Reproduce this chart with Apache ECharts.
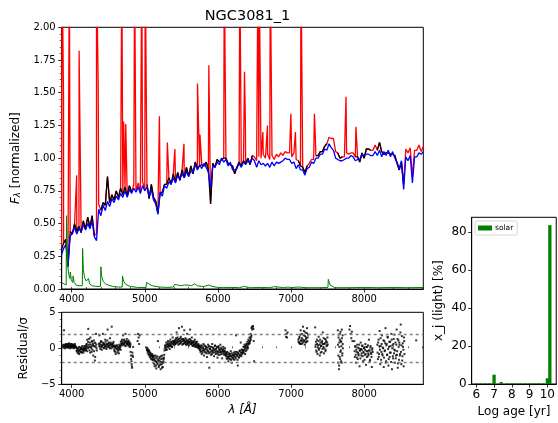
<!DOCTYPE html>
<html><head><meta charset="utf-8">
<script src="https://cdn.jsdelivr.net/npm/echarts@6/dist/echarts.min.js"></script>
<style>html,body{margin:0;padding:0;background:#fff}#c{width:558px;height:423px}</style>
</head><body><div id="c"></div>
<script>
// ---------------- data ----------------
const chartTitle = 'NGC3081_1';
const lamMin = 3864, lamMax = 8809;
const lamStart = 3860, lamStep = 30;   // sampling of the spectra arrays below
const modelFlux = [
.26,.31,.34,.18,.40,.43,.47,.42,.46,.44,.49,.45,.50,.46,.52,.40,.37,.61,.56,.64,
.60,.67,.63,.69,.66,.71,.68,.73,.70,.75,.70,.76,.73,.77,.74,.78,.73,.79,.75,.78,
.71,.76,.68,.65,.57,.74,.71,.79,.77,.82,.80,.85,.81,.87,.84,.88,.85,.90,.86,.90,
.89,.95,.91,.95,.92,.96,.93,.89,.77,.94,.93,.97,.95,1.00,.97,.99,.94,.97,.91,.91,
.92,.96,.93,.97,.95,.98,.96,1.00,.98,.93,.98,.95,.96,.94,.96,.93,.97,.94,.97,.96,
.97,.98,1.00,.99,.99,.96,.97,.92,.95,.91,.91,.87,.92,.93,.97,.96,1.00,1.00,1.03,1.03,
1.07,1.06,1.11,1.08,1.06,1.00,.99,.98,.98,.99,1.00,1.00,1.02,1.01,.98,.99,.99,1.03,1.02,1.03,
1.03,1.02,1.02,1.05,1.02,1.06,1.01,1.05,1.02,1.06,1.01,1.05,1.00,.97,.92,.98,.76,1.01,.98,1.02,
.81,1.01,1.01,1.04,1.03,1.05];
const obsFlux = [
.30,.35,.38,.17,.44,.42,.50,.44,.48,.43,.52,.46,.55,.47,.56,.41,.42,.65,.60,.66,
.64,.86,.66,.72,.68,.75,.70,.77,.72,.78,.71,.79,.74,.80,.75,.81,.74,.82,.76,.80,
.69,.80,.70,.67,.58,.73,.74,.80,.80,.85,.80,.88,.82,.89,.83,.91,.85,.93,.86,.94,
.88,.97,.92,.94,.95,.94,.97,.91,.65,.96,.93,.99,.97,.99,1.00,1.00,.96,.95,.94,.88,
.93,.97,.94,.98,.96,1.00,.95,1.02,1.01,.98,1.01,1.00,1.03,1.00,1.03,.99,1.02,.99,1.03,1.01,
1.04,1.02,1.05,1.04,1.04,1.01,1.04,.99,.98,.94,.93,.89,.94,.96,.99,.99,1.02,1.02,1.05,1.05,
1.09,1.11,1.16,1.15,1.15,1.05,1.04,1.00,1.01,1.01,1.04,1.03,1.04,1.04,1.01,1.01,.97,1.04,1.00,1.07,
1.07,1.06,1.06,1.10,1.06,1.12,1.05,1.03,1.04,1.04,1.03,1.03,1.02,.96,.91,.97,.80,1.07,1.04,1.08,
.86,1.06,1.06,1.10,1.05,1.09];
const maskRanges = [[4335,4375],[4845,4900],[4935,5020],[6500,6925],[6955,7095],[7235,7325],
  [7505,7635],[7715,7795],[7845,7865],[8115,8175],[8555,8705],[8725,8815]];
const emissionLines = [[3869,2.5],[3889,1.47],[3968,2.5],[4069,0.87],[4102,1.82],[4340,2.5],[4363,1.56],
  [4686,2.5],[4711,1.28],[4740,1.26],[4861,2.5],[4959,2.5],[5007,2.5],[5200,1.32],[5309,1.12],[5412,1.07],
  [5536,1.11],[5721,1.57],[5755,1.18],[5876,1.71],[6087,2.5],[6300,2.5],[6364,1.66],[6375,1.30],[6548,2.5],
  [6563,2.5],[6583,2.5],[6615,1.2],[6678,1.25],[6716,2.5],[6731,2.5],[6998,1.34],[7060,1.2],[7136,2.5],
  [7320,1.34],[7330,1.2],[7752,1.47],[7888,1.24]];
const errorSpec = [[3864,0.05],[3890,0.04],[3925,0.03],[3930,0.56],[3940,0.3],[3950,0.16],[3965,0.1],[3978,0.08],
  [3982,0.13],[3995,0.07],[4015,0.05],[4020,0.1],[4035,0.05],[4060,0.03],[4100,0.025],[4146,0.025],[4150,0.31],
  [4160,0.15],[4175,0.09],[4200,0.06],[4225,0.05],[4230,0.08],[4245,0.04],[4280,0.025],[4330,0.02],[4395,0.02],
  [4400,0.17],[4410,0.1],[4430,0.06],[4460,0.04],[4500,0.03],[4560,0.02],[4640,0.015],[4692,0.015],[4696,0.1],
  [4710,0.06],[4740,0.035],[4800,0.02],[4900,0.012],[5018,0.012],[5023,0.05],[5050,0.035],[5100,0.025],[5200,0.015],
  [5300,0.012],[5390,0.015],[5410,0.035],[5450,0.03],[5500,0.025],[5540,0.03],[5560,0.045],[5580,0.03],[5640,0.025],
  [5683,0.04],[5720,0.025],[5800,0.018],[5874,0.03],[5920,0.02],[6000,0.012],[6080,0.012],[6100,0.022],[6200,0.012],
  [6300,0.01],[6350,0.02],[6450,0.01],[6600,0.012],[6700,0.01],[6780,0.018],[6900,0.01],[6960,0.015],[7000,0.01],
  [7100,0.015],[7200,0.01],[7400,0.01],[7505,0.012],[7510,0.074],[7525,0.06],[7535,0.03],[7550,0.015],[7600,0.01],
  [7800,0.01],[8000,0.012],[8200,0.01],[8400,0.012],[8600,0.01],[8809,0.012]];
// residual/sigma: [start wavelength, spacing, values]
const residualSegments = [
  [3880,8,[0.4,0.2,2.5,0.3,0.5,0.1,0.4,0.2,0.6,0.3,0.1,0.5,0.3,0.2,0.4,0.6,0.2,0.3,0.5,0.1,0.3,0.4,0.2]],
  [3884,8,[0.1,0.5,0.3,0.0,0.4,0.6,0.2,0.5,0.1,0.4,0.7,0.2,0.0,0.6,0.3,0.1,0.5,0.4,0.0,0.3,0.6,0.2,0.1]],
  [4064,8,[0.1,-0.3,-0.6,0.0,-0.4,-0.8,-0.2,0.1,-0.5,-0.1,0.3,-0.3,-0.6,0.0,-0.2,0.2]],
  [4068,8,[-0.4,0.0,-0.2,-0.7,0.2,-0.3,-0.5,-0.1,0.1,-0.6,-0.2,0.0,-0.4,0.3,-0.1,-0.3]],
  [4190,7.5,[0.3,-0.2,0.6,1.2,0.0,2.7,0.5,-0.3,0.8,1.5,0.2,-0.5,0.9,0.4,-1.0,1.1,0.3,-1.7,0.7,2.0,0.0]],
  [4194,7.5,[0.0,0.5,-0.4,0.3,0.9,0.1,1.3,0.2,-0.6,0.5,0.0,1.0,-0.2,0.6,0.3,-0.4,0.8,-1.2,0.2,0.5,-0.3]],
  [4372,8,[0.6,1.8,0.2,0.5,1.0,-0.2,0.4,2.0,0.7,0.1,0.5,1.2,0.3,-0.1,0.6,2.6,0.4,0.8,0.2,1.4,0.5,0.0,3.0,0.6,0.3,0.9]],
  [4376,8,[0.3,0.7,-0.1,0.9,0.4,0.2,0.8,0.5,0.0,0.6,0.3,0.9,0.1,0.5,1.1,0.2,0.7,0.4,0.0,0.6,0.8,0.3,0.5,0.1,0.7,0.4]],
  [4578,8,[0.3,-0.4,0.1,-0.8,0.4,0.0,-0.6,0.2,-0.3,0.5,-0.1,0.2]],
  [4582,8,[-0.2,0.2,-0.5,0.3,-0.1,0.4,-0.3,0.0,-0.7,0.1,0.3,-0.2]],
  [4672,8,[0.9,0.5,1.2,0.7,1.8,0.6,1.0,0.4,2.0,0.8,1.3,0.6,0.9,1.1,0.5,0.2,0.7]],
  [4676,8,[0.6,1.0,0.4,0.8,0.5,1.2,0.7,0.9,0.3,1.0,0.6,0.8,0.4,0.7,0.9,0.3,0.5]],
  [4806,7,[-0.5,-1.5,-2.2,-2.7,-1.0,0.2]],
  [4810,7,[-1.0,-1.8,-2.5,-0.6,-1.2]],
  [4902,7,[1.0,2.0,1.5,0.6,1.8]],
  [5025,7.5,[0.1,-0.3,-0.6,-0.2,-0.9,-0.5,-1.2,-0.7,-1.0,-1.5,-0.8,-1.3]],
  [5029,7.5,[-0.2,0.0,-0.4,-0.8,-0.3,-1.0,-0.6,-1.4,-0.9,-1.1,-1.6,-1.0]],
  [5112,7.5,[-1.2,-2.0,-1.5,-2.5,-1.0,-1.8,-2.8,-1.4,-2.2,1.0,-1.7,-2.4,-1.2,-2.0,-2.9,-1.5,-2.2,-1.0,-2.6,-1.8,-1.3]],
  [5116,7.5,[-1.6,-1.1,-2.2,-1.7,-1.3,-2.4,-1.9,-1.1,-2.0,-1.6,-2.6,-1.4,-1.8,-2.3,-1.1,-1.9,-2.7,-1.4,-2.0,-1.5,-0.9]],
  [5270,8,[-0.3,0.4,0.1,0.8,-0.2,0.5,1.0,0.3,0.6,-0.1,1.2,0.4,0.9,0.2,1.5,0.5,0.8,1.1]],
  [5274,8,[0.0,0.3,-0.2,0.5,0.2,0.7,0.1,0.4,0.9,0.3,0.6,0.8,0.2,0.7,1.0,0.6,0.9,0.5]],
  [5412,8,[1.0,0.6,1.4,2.2,0.8,1.2,0.5,2.8,1.0,0.7,1.6,0.9,3.0,1.3,0.6,1.1,2.5,0.8,1.4,0.5,1.0,2.0,0.7,1.2,0.4,0.9,2.6,1.1,0.6,1.5,0.8,0.3,1.0,0.5,1.2,0.2,0.7,0.4,0.9,0.1,0.6,0.3,0.0]],
  [5416,8,[0.8,1.2,0.7,1.0,1.5,0.9,1.3,0.6,1.1,1.4,0.8,1.2,0.5,1.0,1.3,0.7,1.1,0.9,0.6,1.2,0.8,0.5,1.0,0.7,0.9,1.3,0.6,0.8,1.0,0.4,0.7,0.9,0.5,0.8,0.3,0.6,0.9,0.2,0.5,0.3,0.0,0.4,-0.2]],
  [5754,8,[0.2,-0.5,0.4,-0.8,0.0,-0.3,0.6,-1.0,-0.2,0.3,-0.6,0.1,-1.2,-0.4,0.5,-0.7,-2.7,-0.1,0.2,-0.9,-0.3,0.6,-0.5,0.0,-1.1,-0.2,0.4,-0.8,-0.4,0.1,-1.3,-0.6,0.3,-0.2,-0.9,0.5,-0.5,-0.1,-1.4,-0.3,0.2,-0.7,-0.4,0.0,-1.0]],
  [5758,8,[-0.2,0.1,-0.4,0.3,-0.6,0.0,-0.3,0.4,-0.5,-0.1,0.2,-0.7,-0.2,0.1,-0.4,0.3,-0.6,-0.1,-0.5,0.2,-0.8,-0.3,0.1,-0.6,-0.2,0.3,-0.5,-0.1,-0.7,0.2,-0.4,-0.9,0.0,-0.5,-0.2,-0.6,0.1,-0.8,-0.3,-0.5,-0.1,-0.9,-0.4,-0.6,-0.8]],
  [6112,8,[-0.8,-1.4,-0.5,-1.2,-1.8,-0.7,-1.0,-1.5,-0.4,-1.1,-2.0,-0.9,-1.3,-0.6,-1.6,-0.8,-1.2,1.8,-0.5,-1.0,-2.4,-0.7,-1.3,-0.4,-0.9,0.8,-1.1,-0.6,-0.2]],
  [6116,8,[-1.1,-0.6,-1.5,-0.9,-1.2,-1.4,-0.8,-1.1,-1.6,-0.7,-1.3,-1.0,-1.5,-0.9,-1.1,-0.5,-1.4,-0.8,-1.0,-1.6,-0.6,-1.2,-0.9,-0.3,-1.0,-0.6,-0.2,-0.8,-0.4]],
  [6342,7.5,[-0.6,0.2,-0.3,0.5,-0.8,0.1,0.6,-0.2,0.9,0.3,1.2,0.6,1.5,1.0,2.0,1.6]],
  [6346,7.5,[-0.3,-0.6,0.2,-0.1,0.3,-0.4,0.4,0.1,0.6,0.0,0.8,1.0,0.7,1.4,1.2,1.8]],
  [6460,5,[2.8,3.0,2.6,2.9,3.1,2.7,1.0,-1.8]],
  [6925,7,[2.5,1.6,2.0,1.5,2.2]],
  [7100,8,[1.2,0.8,1.6,0.6,2.5,1.0,1.4,0.7,3.0,1.8,1.1,0.5,2.2,1.3,0.9,2.8,1.5]],
  [7104,8,[0.9,1.4,0.7,1.9,1.1,0.6,2.0,1.2,0.9,2.4,1.0,1.7,0.8,1.5,2.1,1.0,1.9]],
  [7330,8,[2.9,0.5,-0.3,1.2,-0.8,0.4,1.6,0.0,-1.0,0.8,0.3,-0.5,1.0,2.2,0.2,-0.7,0.6,1.3,-0.2,0.9,0.4,1.5]],
  [7334,8,[0.2,0.9,-0.5,0.6,0.1,1.0,-0.2,0.5,1.2,-0.6,0.4,0.8,-0.1,0.6,1.4,0.0,0.7,-0.4,1.1,0.3,0.8,0.5]],
  [7640,5,[2.5,-2.0,1.5,-2.9,0.8,-1.2,2.0,-0.5,1.0,-1.8,0.3,2.6,-1.0,1.8,0.0]],
  [7642,5,[0.5,-1.0,1.9,-2.4,0.2,1.2,-1.5,2.3,-0.3,0.9,-2.0,1.4,-0.7,0.6]],
  [7800,8,[2.6,3.1,2.0,1.4,2.3,1.0]],
  [7865,8,[1.0,-1.2,0.2,-2.0,-0.5,0.5,-1.5,-0.8,0.0,-2.5,-0.3,0.8,-1.0,-0.2,0.4,-1.8,-0.6,0.1,-0.9,0.6,-2.3,-0.4,0.2,-1.1,-0.7,1.2,-0.3,-1.6,0.3,-0.8,-2.6,0.0]],
  [7869,8,[-0.4,0.3,-0.9,-0.2,-1.3,0.1,-0.6,-1.0,0.5,-0.3,-1.4,-0.1,-0.7,0.3,-1.1,-0.5,0.0,-1.6,-0.2,-0.8,0.2,-1.2,-0.4,0.4,-0.9,-0.3,-1.8,0.1,-0.6,-1.2,-0.2,-0.5]],
  [8180,8,[0.5,-1.5,1.2,-0.8,2.4,-2.2,0.3,-0.5,1.8,-1.0,0.0,-2.6,1.0,-0.3,2.8,-1.8,0.6,-0.9,1.5,-2.4,0.2,-1.2,0.9,-0.6,2.0,-2.9,0.4,-1.4,1.3,-0.2,-2.0,0.8,-1.0,2.6,-0.4,-2.7,1.1,-1.6,0.5,-0.8,3.3,-2.2,1.7,-1.1,0.2,-2.5,1.0]],
  [8184,8,[-0.6,0.8,-1.2,0.3,-0.2,1.4,-1.6,0.6,-0.8,0.1,1.1,-1.3,-0.4,0.7,-2.0,0.4,-0.9,1.6,-0.1,-1.5,0.9,-0.6,0.3,-1.9,1.2,0.0,-1.1,0.6,-0.7,1.9,-0.3,-1.4,0.5,-0.9,1.3,-2.1,0.2,0.8,-1.0,2.2,-0.5,0.4,-1.7,0.7,-0.2,1.5,-0.8]],
  [8712,8,[1.1]]
];
const residualGuides = [2, -2];
const lamTicks = [4000,5000,6000,7000,8000];
const lamMinorTicks = [4000,4200,4400,4600,4800,5000,5200,5400,5600,5800,6000,6200,6400,6600,6800,7000,7200,7400,7600,7800,8000,8200,8400,8600,8800];
const ageLog   = [6.0,6.25,6.5,6.75,7.0,7.4,7.75,8.0,8.25,8.5,8.75,9.0,9.25,9.5,9.75,10.0,10.14];
const ageLight = [0.3,0.3,0.3,0.3,4.9,1.0,0.3,0.3,0.3,0.3,0.3,0.3,0.3,0.3,0.3,3.0,83.5];
const ageTicks = [6,7,8,9,10];
const lightTicks = [0,20,40,60,80];

// ---------------- build series data ----------------
const lamAt = i => lamStart + lamStep * i;
const masked = l => maskRanges.some(r => l >= r[0] && l <= r[1]);
const modelData = modelFlux.map((v, i) => [lamAt(i), v]);
const obsFull = obsFlux.map((v, i) => [lamAt(i), v]);
const blackData = obsFlux.map((v, i) => [lamAt(i), masked(lamAt(i)) ? '-' : v]);
const redData = obsFull.concat(emissionLines).sort((a, b) => a[0] - b[0]);
const residData = [];
residualSegments.forEach(s => s[2].forEach((v, k) => residData.push([s[0] + s[1] * k, v])));
const barData = ageLog.map((a, i) => [a, ageLight[i]]);

const FONT = 'DejaVu Sans';
const axLine = {show: true, onZero: false, lineStyle: {color: '#000', width: 1}};
const tick = {show: true, length: 3.5, lineStyle: {color: '#000', width: 0.8}};
const lbl = (o) => Object.assign({color: '#000', fontFamily: FONT, fontSize: 10}, o);

const chart = echarts.init(document.getElementById('c'), null, {renderer: 'canvas'});
chart.setOption({
  animation: false,
  backgroundColor: '#fff',
  title: {text: chartTitle, left: 242.5, top: 4, textAlign: 'center',
    textStyle: {fontFamily: FONT, fontSize: 14.5, fontWeight: 'normal', color: '#000'}},
  legend: {show: true, data: ['solar'], left: 475, top: 221, orient: 'vertical',
    itemWidth: 14, itemHeight: 5, itemGap: 2, padding: [3, 4, 3, 3],
    borderColor: '#ccc', borderWidth: 0.8, borderRadius: 2, backgroundColor: '#fff',
    icon: 'rect', textStyle: {fontFamily: FONT, fontSize: 7.5, color: '#000', padding: [0,0,0,-2]}},
  grid: [
    {left: 61.7, right: 134.7, top: 27.3, height: 261.7, show: true, borderColor: '#000', borderWidth: 1},
    {left: 61.7, right: 134.7, top: 312.3, height: 72, show: true, borderColor: '#000', borderWidth: 1},
    {left: 471.7, right: -4, top: 217.3, bottom: 39, show: true, borderColor: '#000', borderWidth: 1}
  ],
  xAxis: [
    {type: 'value', gridIndex: 0, min: lamMin, max: lamMax, axisLine: axLine, splitLine: {show: false},
      axisTick: Object.assign({}, tick, {customValues: lamTicks}),
      axisLabel: lbl({customValues: lamTicks, margin: 5, formatter: v => String(v)})},
    {type: 'value', gridIndex: 0, min: lamMin, max: lamMax, axisLine: {show: false}, splitLine: {show: false},
      axisTick: {show: true, length: 2, lineStyle: {color: '#000', width: 0.6}, customValues: lamMinorTicks},
      axisLabel: {show: false}},
    {type: 'value', gridIndex: 1, min: lamMin, max: lamMax, axisLine: axLine, splitLine: {show: false},
      axisTick: Object.assign({}, tick, {customValues: lamTicks}),
      axisLabel: lbl({customValues: lamTicks, margin: 5, formatter: v => String(v)}),
      name: 'λ [Å]', nameLocation: 'middle', nameGap: 20,
      nameTextStyle: {fontFamily: FONT, fontSize: 12, fontStyle: 'italic', color: '#000'}},
    {type: 'value', gridIndex: 1, min: lamMin, max: lamMax, axisLine: {show: false}, splitLine: {show: false},
      axisTick: {show: true, length: 2, lineStyle: {color: '#000', width: 0.6}, customValues: lamMinorTicks},
      axisLabel: {show: false}},
    {type: 'value', gridIndex: 2, min: 5.74, max: 10.5, axisLine: axLine, splitLine: {show: false},
      axisTick: Object.assign({}, tick, {customValues: ageTicks}),
      axisLabel: lbl({customValues: ageTicks, fontSize: 12, margin: 5}),
      name: 'Log age [yr]', nameLocation: 'middle', nameGap: 22,
      nameTextStyle: {fontFamily: FONT, fontSize: 12, color: '#000'}}
  ],
  yAxis: [
    {type: 'value', gridIndex: 0, min: 0, max: 2, interval: 0.25, axisLine: axLine, splitLine: {show: false},
      axisTick: tick, minorTick: {show: true, splitNumber: 5, length: 2, lineStyle: {color: '#000', width: 0.6}},
      minorSplitLine: {show: false},
      axisLabel: lbl({margin: 6, formatter: v => v.toFixed(2)}),
      name: '{i|F}{s|λ}{n| [normalized]}', nameLocation: 'middle', nameGap: 34, nameRotate: 90,
      nameTextStyle: {fontFamily: FONT, fontSize: 12, color: '#000',
        rich: {i: {fontFamily: FONT, fontSize: 12, fontStyle: 'italic', color: '#000'},
               s: {fontFamily: FONT, fontSize: 8.5, fontStyle: 'italic', color: '#000', padding: [4,0,0,0]},
               n: {fontFamily: FONT, fontSize: 12, color: '#000'}}}},
    {type: 'value', gridIndex: 1, min: -5, max: 5, interval: 5, axisLine: axLine, splitLine: {show: false},
      axisTick: tick, minorTick: {show: true, splitNumber: 5, length: 2, lineStyle: {color: '#000', width: 0.6}},
      axisLabel: lbl({margin: 6, formatter: v => (v < 0 ? '\u2212' + Math.abs(v) : String(v))}),
      name: 'Residual/σ', nameLocation: 'middle', nameGap: 26, nameRotate: 90,
      nameTextStyle: {fontFamily: FONT, fontSize: 12, color: '#000'}},
    {type: 'value', gridIndex: 2, min: 0, max: 87.6, axisLine: axLine, splitLine: {show: false},
      axisTick: Object.assign({}, tick, {customValues: lightTicks}),
      axisLabel: lbl({customValues: lightTicks, fontSize: 12, margin: 5}),
      name: 'x_j (light) [%]', nameLocation: 'middle', nameGap: 27, nameRotate: 90,
      nameTextStyle: {fontFamily: FONT, fontSize: 12, color: '#000'}}
  ],
  series: [
    {type: 'line', name: 'observed+lines', xAxisIndex: 0, yAxisIndex: 0, data: redData, showSymbol: false, symbol: 'none',
      lineStyle: {color: '#ff0000', width: 1.3}, clip: true, z: 2},
    {type: 'line', name: 'observed', xAxisIndex: 0, yAxisIndex: 0, data: blackData, showSymbol: false, symbol: 'none',
      connectNulls: false, lineStyle: {color: '#000', width: 1.3}, clip: true, z: 3},
    {type: 'line', name: 'model', xAxisIndex: 0, yAxisIndex: 0, data: modelData, showSymbol: false, symbol: 'none',
      lineStyle: {color: '#0000ff', width: 1.3}, clip: true, z: 4},
    {type: 'line', name: 'error', xAxisIndex: 0, yAxisIndex: 0, data: errorSpec, showSymbol: false, symbol: 'none',
      lineStyle: {color: '#008000', width: 1}, clip: true, z: 5},
    {type: 'scatter', name: 'residual', xAxisIndex: 2, yAxisIndex: 1, data: residData, symbol: 'rect', symbolSize: 2,
      itemStyle: {color: '#000'}, clip: true,
      markLine: {silent: true, symbol: 'none', label: {show: false}, animation: false,
        lineStyle: {color: '#808080', type: [3, 3], width: 1.3},
        data: residualGuides.map(g => ({yAxis: g}))}},
    {type: 'bar', name: 'solar', xAxisIndex: 4, yAxisIndex: 2, data: barData, barWidth: 3.3,
      itemStyle: {color: '#008000'}, clip: true}
  ]
});
</script>
</body></html>
